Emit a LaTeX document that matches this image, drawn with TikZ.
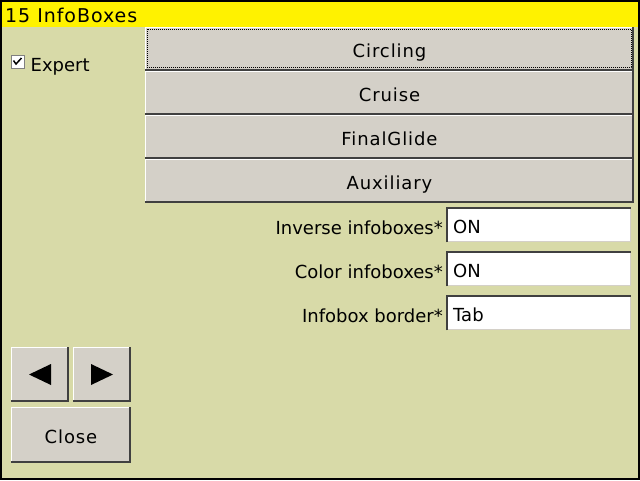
\documentclass[tikz,border=0pt]{standalone}
\usepackage{fontspec}
\setmainfont{DejaVu Sans}
\newfontfamily\spacedfont{DejaVu Sans}[LetterSpace=5]
\usetikzlibrary{positioning}
\definecolor{dlgbg}{RGB}{216,218,168}
\definecolor{btnface}{RGB}{212,208,200}
\definecolor{btndark}{RGB}{64,64,64}

\begin{document}
\begin{tikzpicture}[x=1pt,y=-1pt,
  btn/.style={rectangle,fill=btnface,inner sep=0pt,text height=17pt,text depth=0pt,font=\spacedfont\fontsize{18}{20}\selectfont},
  field/.style={rectangle,fill=white,inner sep=0pt,minimum width=185pt,minimum height=35pt,anchor=north west},
  fieldlabel/.style={inner sep=0pt,text height=19pt,text depth=0pt,font=\fontsize{18}{20}\selectfont},
  fieldvalue/.style={inner sep=0pt,anchor=west,text height=17pt,text depth=0pt,font=\fontsize{18}{20}\selectfont}]

\useasboundingbox (0,0) rectangle (640,480);
\fill[dlgbg] (0,0) rectangle (640,480);
\fill[yellow] (0,0) rectangle (640,26.5);
\draw[black,line width=2pt] (1,1) rectangle (639,479);
\node[anchor=base west,inner sep=0pt,font=\spacedfont\fontsize{19}{22}\selectfont] (title) at (5,22.5) {15 InfoBoxes};

% buttons
\node[btn,minimum width=489pt,minimum height=44pt] (circ) at (389.5,49) {Circling};
\node[btn,minimum width=489pt,minimum height=44pt] (cruise) at (389.5,93) {Cruise};
\node[btn,minimum width=489pt,minimum height=44pt] (glide) at (389.5,137) {FinalGlide};
\node[btn,minimum width=489pt,minimum height=44pt] (aux) at (389.5,181) {Auxiliary};
\node[btn,minimum width=58pt,minimum height=55pt] (prev) at (40,374.5) {};
\node[btn,minimum width=58pt,minimum height=55pt] (next) at (102,374.5) {};
\node[btn,minimum width=120pt,minimum height=56pt] (close) at (71,435) {Close};
\foreach \b in {circ,cruise,glide,aux,prev,next,close}{
  \draw[white,line width=1pt] ([xshift=0.5pt,yshift=2pt]\b.south west) |- ([xshift=-2pt,yshift=-0.5pt]\b.north east);
  \draw[btndark,line width=2pt] ([yshift=1pt]\b.south west) -| ([xshift=-1pt]\b.north east);
}
\draw[black,line width=1pt,dash pattern=on 1pt off 1pt] ([xshift=2.5pt,yshift=-2.5pt]circ.north west) rectangle ([xshift=-2.5pt,yshift=3.5pt]circ.south east);
\fill[black] (prev.center) ++(-11,0) -- ++(22,-10.5) -- ++(0,21) -- cycle;
\fill[black] (next.center) ++(11,0) -- ++(-22,-10.5) -- ++(0,21) -- cycle;

% expert checkbox
\node[rectangle,fill=white,draw=gray,line width=1pt,minimum size=13pt,inner sep=0pt] (chk) at (17.5,61.5) {};
\draw[black,line width=1.5pt] ([xshift=-4pt,yshift=1pt]chk.center) -- ([xshift=-1.5pt,yshift=-2.5pt]chk.center) -- ([xshift=4pt,yshift=3.5pt]chk.center);
\node[fieldlabel,right=6pt of chk] (expert) {Expert};

% edit fields
\node[field] (inv) at (446,207) {};
\node[field] (col) at (446,251) {};
\node[field] (brd) at (446,295) {};
\foreach \f in {inv,col,brd}{
  \draw[btndark,line width=2pt] ([xshift=1pt]\f.south west) |- ([yshift=-1pt]\f.north east);
  \draw[btnface,line width=1.5pt] ([xshift=2pt,yshift=0.75pt]\f.south west) -| ([xshift=-0.75pt,yshift=-2pt]\f.north east);
}
\node[fieldvalue] (invval) at ([xshift=7pt]inv.west) {ON};
\node[fieldvalue] (colval) at ([xshift=7pt]col.west) {ON};
\node[fieldvalue] (brdval) at ([xshift=7pt]brd.west) {Tab};
\node[fieldlabel,left=3pt of inv] (invlbl) {Inverse infoboxes*};
\node[fieldlabel,left=3pt of col] (collbl) {Color infoboxes*};
\node[fieldlabel,left=3pt of brd] (brdlbl) {Infobox border*};

\end{tikzpicture}
\end{document}
